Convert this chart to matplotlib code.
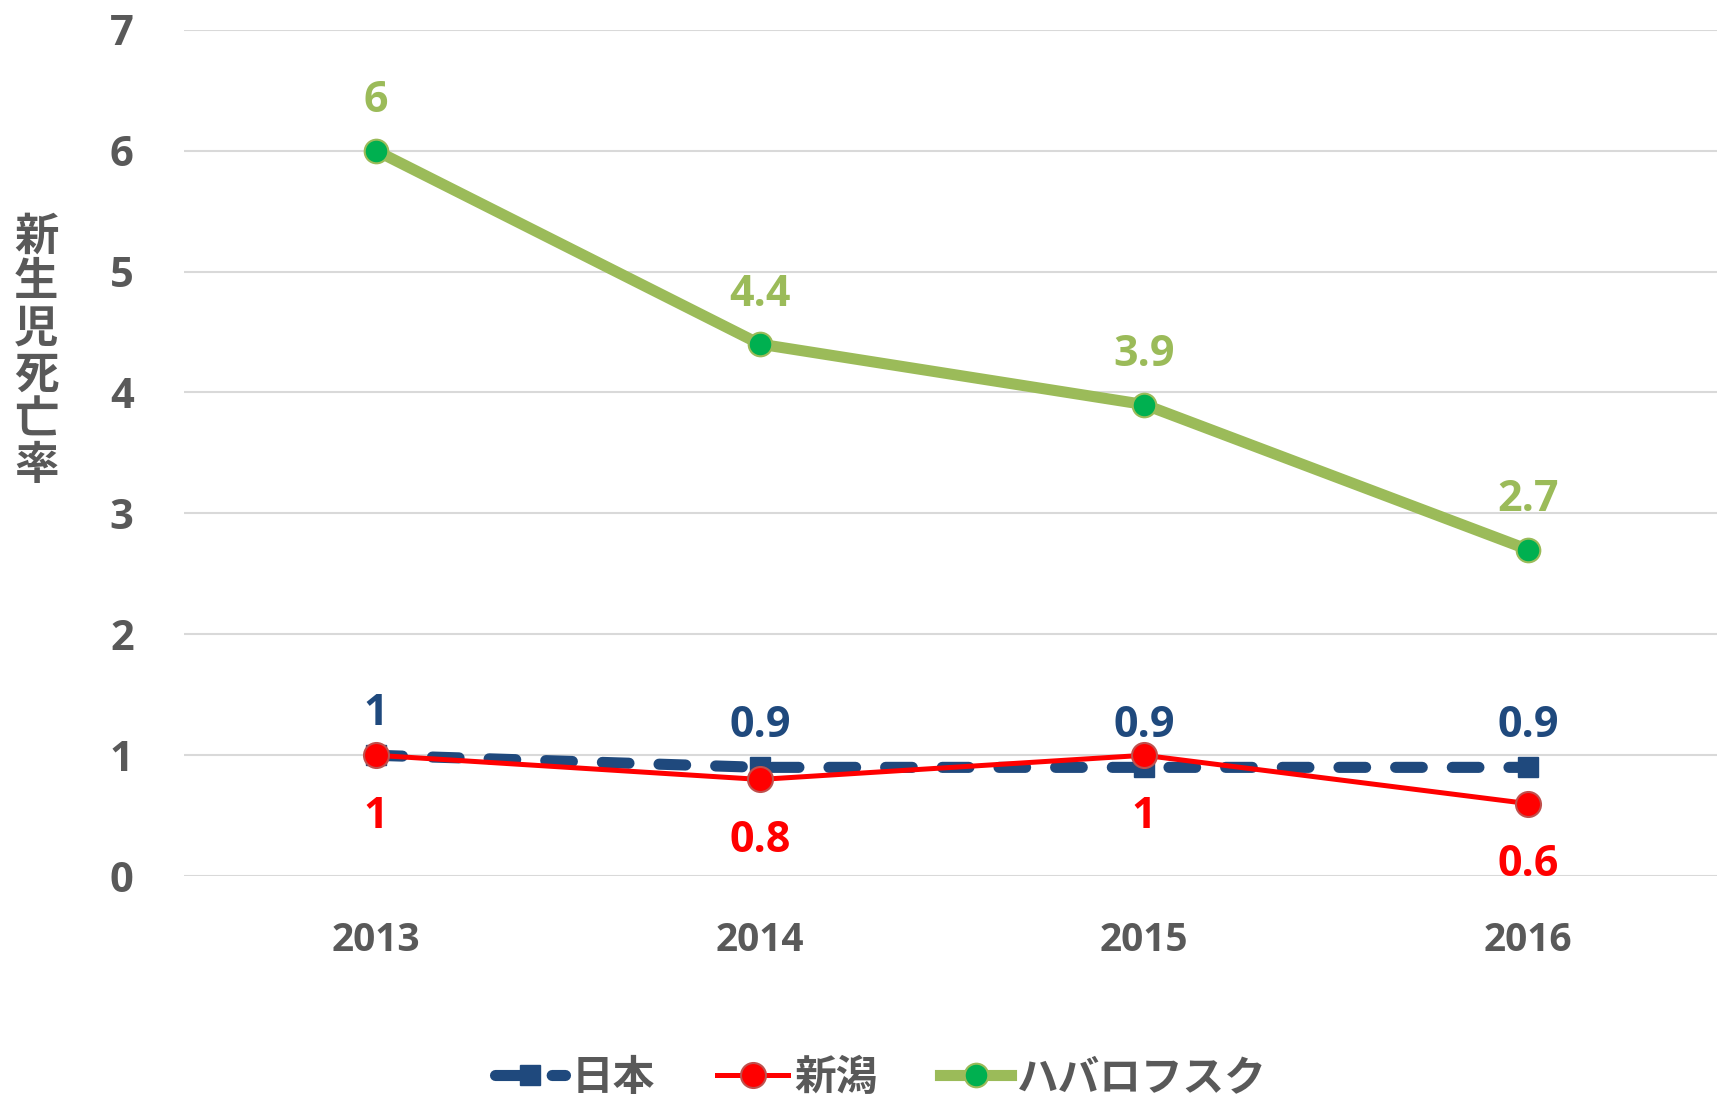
import matplotlib.pyplot as plt

# fonts: latin digits + Japanese text
plt.rcParams["font.family"] = ["Open Sans", "Noto Sans CJK JP", "DejaVu Sans"]

# data
years = ["2013", "2014", "2015", "2016"]
japan = [1, 0.9, 0.9, 0.9]
niigata = [1, 0.8, 1, 0.6]
khabarovsk = [6, 4.4, 3.9, 2.7]
series_names = ["日本", "新潟", "ハバロフスク"]
ylabel_text = "新生児死亡率"

GREY = "#595959"
BLUE = "#1F497D"
RED = "#FF0000"
GREEN = "#9BBB59"
GREEN_FILL = "#00B050"

fig = plt.figure(figsize=(17.17, 10.98), dpi=100)
ax = fig.add_axes([0.107, 0.202, 0.895, 0.771])

x = list(range(len(years)))

# --------------------------------------------------------------------------
# lines
ax.plot(x, japan, color=BLUE, lw=8, linestyle=(0, (2.4, 2.7)),
        dash_capstyle="round", marker="s", markersize=15,
        markerfacecolor=BLUE, markeredgecolor=BLUE, label=series_names[0], zorder=3)
ax.plot(x, niigata, color=RED, lw=3.6, marker="o", markersize=18,
        markerfacecolor=RED, markeredgecolor="#C0504D", markeredgewidth=1.5,
        label=series_names[1], zorder=4)
ax.plot(x, khabarovsk, color=GREEN, lw=8, marker="o", markersize=17,
        markerfacecolor=GREEN_FILL, markeredgecolor=GREEN, markeredgewidth=1.5,
        label=series_names[2], zorder=5)

# --------------------------------------------------------------------------
# data labels
lab_kw = dict(textcoords="offset points", ha="center", va="center",
              fontsize=31, fontweight="bold")
for xi, v in zip(x, khabarovsk):
    ax.annotate(f"{v:g}", (xi, v), xytext=(0, 36), color=GREEN, **lab_kw)
for xi, v in zip(x, japan):
    ax.annotate(f"{v:g}", (xi, v), xytext=(0, 30), color=BLUE, **lab_kw)
for xi, v in zip(x, niigata):
    ax.annotate(f"{v:g}", (xi, v), xytext=(0, -44), color=RED, **lab_kw)

# --------------------------------------------------------------------------
# axes settings
ax.set_xlim(-0.5, 3.5)
ax.set_ylim(0, 7)
ax.set_yticks(range(0, 8))
ax.set_xticks(x)
ax.set_xticklabels(years)
ax.grid(axis="y", color="#D9D9D9", lw=1.5)
ax.set_axisbelow(True)
for s in ax.spines.values():
    s.set_visible(False)
ax.tick_params(axis="both", length=0, colors=GREY)
ax.tick_params(axis="y", labelsize=30, pad=36)
ax.tick_params(axis="x", labelsize=28, pad=32)
for lbl in ax.get_xticklabels() + ax.get_yticklabels():
    lbl.set_fontweight("bold")

fig.text(0.021, 0.68, "\n".join(ylabel_text), ha="center", va="center",
         fontsize=32, fontweight="bold", color=GREY, linespacing=1.0,
         family=["Noto Sans CJK JP", "DejaVu Sans"])

leg = fig.legend(loc="lower center", bbox_to_anchor=(0.513, -0.035), ncol=3,
                 frameon=False, handlelength=1.7, columnspacing=1.5,
                 handletextpad=0.15,
                 prop={"family": ["Noto Sans CJK JP", "DejaVu Sans"],
                       "size": 30, "weight": "bold"})
for t in leg.get_texts():
    t.set_color(GREY)

fig.savefig("out.png", dpi=100)
